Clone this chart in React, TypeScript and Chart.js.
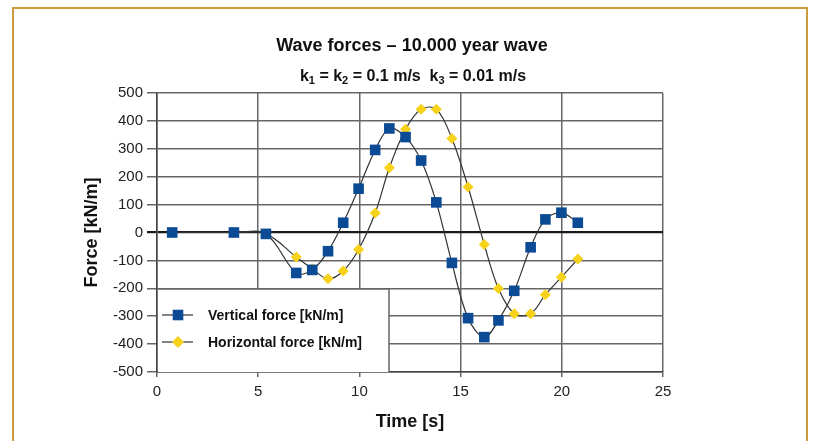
import React, { useEffect, useRef } from "react";
import { Chart, registerables } from "chart.js";

Chart.register(...registerables);

const timeSeconds = [0.75, 3.8, 5.38, 6.88, 7.67, 8.45, 9.2, 9.96, 10.78, 11.48, 12.28, 13.05, 13.8, 14.57, 15.37, 16.17, 16.87, 17.65, 18.46, 19.19, 19.98, 20.79];
const verticalForce = [0, 0, -5, -145, -134, -67, 35, 157, 296, 373, 342, 258, 108, -109, -307, -375, -315, -209, -53, 47, 71, 35];
const horizontalForce = [0, 0, -5, -88, -130, -166, -138, -61, 70, 232, 370, 442, 442, 337, 163, -43, -201, -291, -291, -223, -160, -95];

const titleText = "Wave forces \u2013 10.000 year wave";
// subtitle pieces: [text, isSubscript]
const subtitlePieces: [string, boolean][] = [
  ["k", false], ["1", true], [" = k", false], ["2", true], [" = 0.1 m/s  k", false], ["3", true], [" = 0.01 m/s", false],
];
const xTitle = "Time [s]";
const yTitle = "Force [kN/m]";
const verticalLabel = "Vertical force [kN/m]";
const horizontalLabel = "Horizontal force [kN/m]";

const FONT = '"Liberation Sans", Arial, sans-serif';
const BLUE = "#0b4a94";
const YELLOW = "#f7d21a";
const LINE = "#333333";
const GRID = "#666666";

const textPlugin = {
  id: "textPlugin",
  afterDatasetsDraw(chart: any) {
    const ctx = chart.ctx;
    const area = chart.chartArea;
    ctx.save();
    // legend box
    const lx = area.left, ly = 289, lr = 389, lb = area.bottom;
    ctx.fillStyle = "#ffffff";
    ctx.fillRect(lx + 1, ly, lr - lx - 1, lb - ly);
    ctx.strokeStyle = GRID;
    ctx.lineWidth = 1.5;
    ctx.beginPath();
    ctx.moveTo(lx, ly);
    ctx.lineTo(lr, ly);
    ctx.lineTo(lr, lb);
    ctx.stroke();
    const items = [
      { label: chart.data.datasets[0].label, y: 315, color: BLUE, style: "rect" },
      { label: chart.data.datasets[1].label, y: 342, color: YELLOW, style: "rectRot" },
    ];
    items.forEach((it) => {
      ctx.strokeStyle = LINE;
      ctx.lineWidth = 1.2;
      ctx.beginPath();
      ctx.moveTo(162, it.y);
      ctx.lineTo(193, it.y);
      ctx.stroke();
      ctx.fillStyle = it.color;
      ctx.beginPath();
      if (it.style === "rect") {
        ctx.rect(178 - 5.3, it.y - 5.3, 10.6, 10.6);
      } else {
        ctx.moveTo(178 - 6, it.y);
        ctx.lineTo(178, it.y - 6);
        ctx.lineTo(178 + 6, it.y);
        ctx.lineTo(178, it.y + 6);
        ctx.closePath();
      }
      ctx.fill();
      ctx.fillStyle = "#111";
      ctx.font = `bold 14px ${FONT}`;
      ctx.textAlign = "left";
      ctx.textBaseline = "middle";
      ctx.fillText(it.label, 208, it.y + 1);
    });
    ctx.restore();
  },
  afterDraw(chart: any) {
    const ctx = chart.ctx;
    const area = chart.chartArea;
    ctx.save();
    ctx.fillStyle = "#111";
    ctx.textBaseline = "middle";
    ctx.textAlign = "center";
    ctx.font = `bold 18px ${FONT}`;
    ctx.fillText(titleText, 412, 46);
    // subtitle with subscripts
    const baseFont = `bold 16px ${FONT}`;
    const subFont = `bold 11px ${FONT}`;
    let total = 0;
    subtitlePieces.forEach(([t, sub]) => {
      ctx.font = sub ? subFont : baseFont;
      total += ctx.measureText(t).width;
    });
    let x = 413 - total / 2;
    ctx.textAlign = "left";
    ctx.textBaseline = "alphabetic";
    subtitlePieces.forEach(([t, sub]) => {
      ctx.font = sub ? subFont : baseFont;
      ctx.fillText(t, x, sub ? 84 : 81);
      x += ctx.measureText(t).width;
    });
    // axis titles
    ctx.textAlign = "center";
    ctx.textBaseline = "middle";
    ctx.font = `bold 18px ${FONT}`;
    ctx.fillText(xTitle, (area.left + area.right) / 2, 422);
    ctx.translate(92, (area.top + area.bottom) / 2);
    ctx.rotate(-Math.PI / 2);
    ctx.fillText(yTitle, 0, 0);
    ctx.restore();
  },
};

export default function App() {
  const ref = useRef<HTMLCanvasElement | null>(null);
  useEffect(() => {
    if (!ref.current) return;
    const chart = new Chart(ref.current, {
      type: "line",
      data: {
        datasets: [
          {
            label: verticalLabel,
            data: timeSeconds.map((t, i) => ({ x: t, y: verticalForce[i] })),
            borderColor: LINE,
            borderWidth: 1.2,
            tension: 0.35,
            pointStyle: "rect",
            pointRadius: 7.5,
            pointBackgroundColor: BLUE,
            pointBorderColor: BLUE,
            pointBorderWidth: 0,
            fill: false,
          },
          {
            label: horizontalLabel,
            data: timeSeconds.map((t, i) => ({ x: t, y: horizontalForce[i] })),
            borderColor: LINE,
            borderWidth: 1.2,
            tension: 0.35,
            pointStyle: "rectRot",
            pointRadius: 5.5,
            pointBackgroundColor: YELLOW,
            pointBorderColor: YELLOW,
            pointBorderWidth: 0,
            fill: false,
          },
        ],
      },
      options: {
        animation: false,
        responsive: false,
        devicePixelRatio: 1,
        layout: { padding: { left: 0, right: 150, top: 93, bottom: 0 } },
        plugins: { legend: { display: false }, title: { display: false }, tooltip: { enabled: false } },
        scales: {
          x: {
            type: "linear",
            min: 0,
            max: 25,
            ticks: { stepSize: 5, color: "#222", font: { family: FONT, size: 15 }, padding: 6, maxRotation: 0 },
            grid: { color: GRID, lineWidth: 1.5, tickLength: 5 },
            border: { color: "#444", width: 1.5 },
            afterFit: (s: any) => { s.height = 69; },
          },
          y: {
            min: -500,
            max: 500,
            ticks: { stepSize: 100, color: "#222", font: { family: FONT, size: 15 }, padding: 4 },
            grid: {
              color: (c: any) => (c.tick && c.tick.value === 0 ? "#1a1a1a" : GRID),
              lineWidth: (c: any) => (c.tick && c.tick.value === 0 ? 2.2 : 1.5),
              tickLength: 10,
            },
            border: { color: "#444", width: 1.5 },
            afterFit: (s: any) => { s.width = 157; },
          },
        },
      },
      plugins: [textPlugin],
    });
    return () => chart.destroy();
  }, []);
  return (
    <div style={{ position: "fixed", left: 0, top: 0, width: 813, height: 441, overflow: "hidden", background: "#fff" }}>
      <div style={{ position: "absolute", left: 12, top: 7, width: 792, height: 600, border: "2px solid #c99a3e", borderBottom: "none" }} />
      <canvas ref={ref} width={813} height={441} style={{ position: "absolute", left: 0, top: 0, width: 813, height: 441 }} />
    </div>
  );
}
